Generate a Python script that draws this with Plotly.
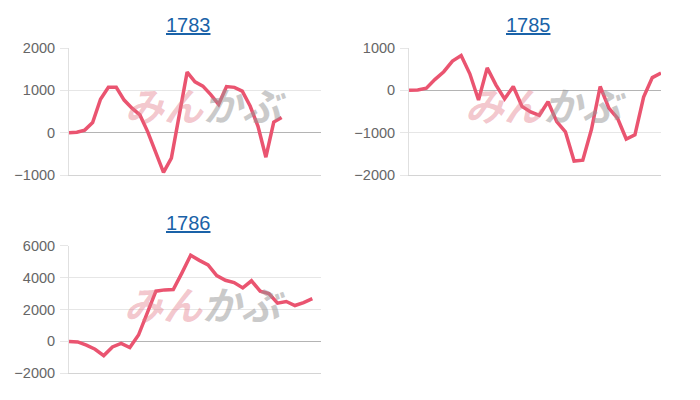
import plotly.graph_objects as go

# ---- data ----
titles = ["1783", "1785", "1786"]
slots_1783 = 33
slots_1785 = 30
slots_1786 = 30
values_1783 = [0, 10, 60, 240, 790, 1070, 1070, 770, 580, 420, 20, -480, -940, -600, 400,
               1430, 1200, 1100, 900, 670, 1090, 1070, 980, 630, 150, -580, 250, 360]
values_1785 = [0, 10, 50, 260, 440, 690, 820, 390, -230, 530, 130, -200, 90, -380, -510,
               -590, -270, -740, -980, -1670, -1650, -920, 90, -420, -660, -1150, -1050,
               -160, 300, 410]
values_1786 = [0, -30, -240, -490, -890, -350, -120, -380, 400, 1800, 3150, 3230, 3250,
               4300, 5400, 5080, 4790, 4130, 3830, 3690, 3350, 3800, 3150, 3000, 2400,
               2500, 2250, 2430, 2680]
yranges = [[-1000, 2000], [-2000, 1000], [-2000, 6000]]
ydticks = [1000, 1000, 2000]

series = [values_1783, values_1785, values_1786]
slots = [slots_1783, slots_1785, slots_1786]

LINE = "#ea5470"
GRID = "#e6e6e6"
FONT = "Liberation Sans, Arial, sans-serif"

# the page body has an 8px margin; size the figure so it ends at the window edge
OFF = 8
W = 700 - OFF
H = 400 - OFF


def px(x):
    return (x - OFF) / W


def py(y):
    return 1 - (y - OFF) / H


xdoms = [[px(69), px(321)], [px(409), px(661)], [px(69), px(321)]]
ydoms = [[py(175), py(48)], [py(175), py(48)], [py(373.3), py(245.7)]]
title_pos = [(px(188), py(25)), (px(528), py(25)), (px(188), py(222.7))]
wm_pos = [(px(205), py(104)), (px(545), py(104)), (px(204), py(303))]

fig = go.Figure()
annotations = []
for k in range(3):
    sfx = "" if k == 0 else str(k + 1)
    vals = series[k]
    fig.add_trace(go.Scatter(
        x=list(range(len(vals))), y=vals, mode="lines",
        line=dict(color=LINE, width=3.5),
        xaxis="x" + sfx, yaxis="y" + sfx, showlegend=False, hoverinfo="skip"))
    fig.layout["xaxis" + sfx] = dict(
        domain=xdoms[k], range=[0, slots[k] - 1], showgrid=False, zeroline=False,
        showticklabels=False, ticks="", showline=True, linecolor="#d4d4d4", linewidth=1,
        anchor="y" + sfx, fixedrange=True, automargin=False)
    fig.layout["yaxis" + sfx] = dict(
        domain=ydoms[k], range=yranges[k], dtick=ydticks[k], tick0=0,
        showgrid=True, gridcolor=GRID, gridwidth=1,
        zeroline=True, zerolinecolor="#b4b4b4", zerolinewidth=1,
        showline=True, linecolor="#e0e0e0", linewidth=1,
        ticks="outside", ticklen=8, tickcolor=GRID, ticklabelstandoff=2,
        tickfont=dict(family=FONT, size=14.5, color="#666666"),
        anchor="x" + sfx, fixedrange=True, automargin=False)
    annotations.append(dict(
        text="<u>" + titles[k] + "</u>", x=title_pos[k][0], y=title_pos[k][1],
        xref="paper", yref="paper", xanchor="center", yanchor="middle", showarrow=False,
        font=dict(family=FONT, size=20, color="#1a62a8")))
    annotations.append(dict(
        text="<b><i><span style='color:rgba(226,120,135,0.42)'>みん</span>"
             "<span style='color:rgba(150,150,150,0.5)'>かぶ</span></i></b>",
        x=wm_pos[k][0], y=wm_pos[k][1], xref="paper", yref="paper",
        xanchor="center", yanchor="middle", showarrow=False,
        font=dict(family="Noto Sans CJK JP", size=39)))

fig.update_layout(
    width=W, height=H, margin=dict(l=0, r=0, t=0, b=0, autoexpand=False),
    paper_bgcolor="white", plot_bgcolor="white",
    annotations=annotations)

fig.write_html("out.html")
